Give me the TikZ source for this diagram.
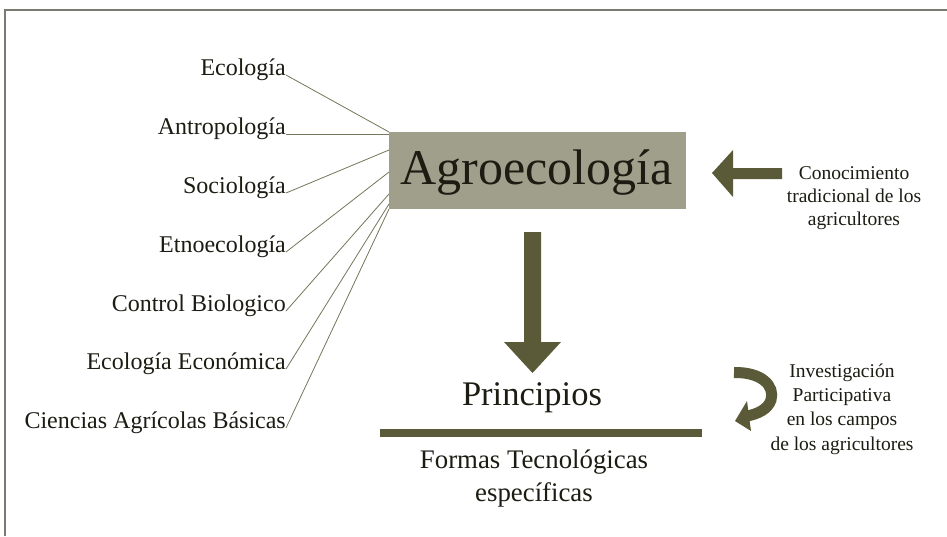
\documentclass[tikz,border=0pt]{standalone}
\usepackage{fontspec}
\setmainfont{Liberation Serif}
\definecolor{boxgray}{HTML}{A09F8B}
\definecolor{dkolive}{HTML}{5A5A38}
\definecolor{lnolive}{HTML}{76765A}
\definecolor{txt}{HTML}{1C1C12}
\definecolor{frame}{HTML}{7A7A70}
\begin{document}
\begin{tikzpicture}[x=1pt,y=-1pt,
  lab/.style={anchor=base east,inner sep=0pt,text=txt,font=\fontsize{24}{28}\selectfont},
  rtxt/.style={anchor=base,inner sep=0pt,text=txt,font=\fontsize{19.5}{24}\selectfont},
  link/.style={draw=lnolive,line width=0.8pt},
  solidshape/.style={fill=dkolive}]
\useasboundingbox (0,0) rectangle (947,536);
\fill[white] (0,0) rectangle (947,536);
% frame
\draw[frame,line width=1.2pt] (5,536) -- (5,10) -- (947,10);
% central box
\node[fill=boxgray,minimum width=297pt,minimum height=77pt,inner sep=0pt] (box) at (537.5,170.5) {};
\node[anchor=base,inner sep=0pt,text=txt,font=\fontsize{50}{56}\selectfont] (agro) at (536.5,184) {Agroecología};
% left labels
\node[lab] (l1) at (286,75) {Ecología};
\node[lab] (l2) at (286,134) {Antropología};
\node[lab] (l3) at (286,193) {Sociología};
\node[lab] (l4) at (286,252) {Etnoecología};
\node[lab] (l5) at (286,311) {Control Biologico};
\node[lab] (l6) at (286,369) {Ecología Económica};
\node[lab] (l7) at (286,428) {Ciencias Agrícolas Básicas};
\coordinate (b1) at (389,132);
\coordinate (b2) at (389,134);
\coordinate (b3) at (389,150);
\coordinate (b4) at (389,172);
\coordinate (b5) at (389,194);
\coordinate (b6) at (389,204);
\coordinate (b7) at (389,209);
\foreach \i in {1,...,7}{\draw[link] (l\i.base east) -- (b\i);}
% down arrow
\fill[solidshape] (524,232) -- (541,232) -- (541,342) -- (561,342) -- (532.5,373) -- (504,342) -- (524,342) -- cycle;
\node[anchor=base,inner sep=0pt,text=txt,font=\fontsize{34.5}{40}\selectfont] (prin) at (532,405) {Principios};
\fill[solidshape] (380,429) rectangle (702,437);
\node[anchor=base,inner sep=0pt,text=txt,font=\fontsize{26.8}{32}\selectfont] (formas1) at (534,468) {Formas Tecnológicas};
\node[anchor=base,inner sep=0pt,text=txt,font=\fontsize{26.8}{32}\selectfont] (formas2) at (534,501) {específicas};
% left arrow
\fill[solidshape] (712,173) -- (733,150) -- (733,168) -- (782,168) -- (782,179) -- (733,179) -- (733,197) -- cycle;
\node[rtxt] (c1) at (854,179) {Conocimiento};
\node[rtxt] (c2) at (854,202) {tradicional de los};
\node[rtxt] (c3) at (854,225) {agricultores};
% curved arrow
\draw[dkolive,line width=11pt] (734,372.5) .. controls (762,372) and (775,386) .. (771,400) .. controls (768,409) and (758,414) .. (747,416);
\fill[solidshape] (735,421) -- (747,401) -- (751,431) -- cycle;
\node[rtxt] (i1) at (842,377) {Investigación};
\node[rtxt] (i2) at (842,401) {Participativa};
\node[rtxt] (i3) at (842,425) {en los campos};
\node[rtxt] (i4) at (842,450) {de los agricultores};
\end{tikzpicture}
\end{document}
